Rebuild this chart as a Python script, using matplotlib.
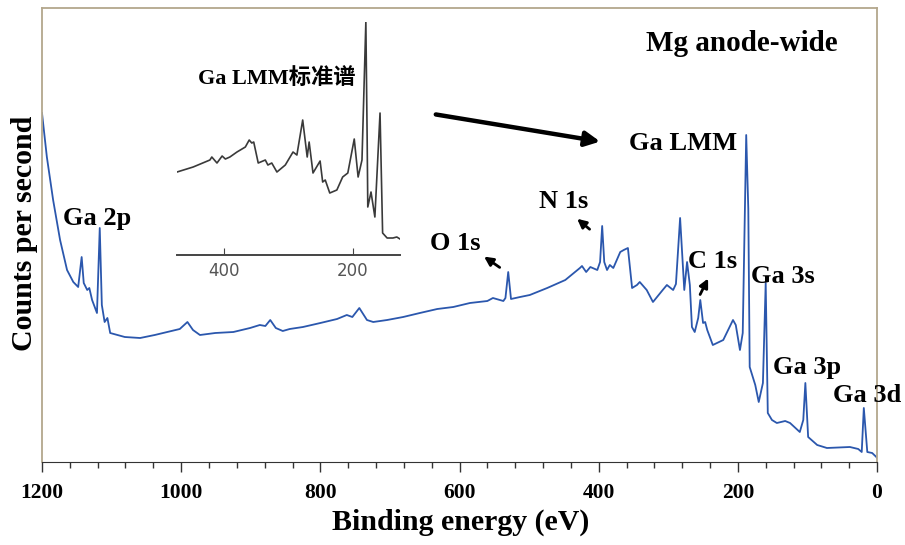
import matplotlib.pyplot as plt
from matplotlib.ticker import MultipleLocator

# Survey spectrum (binding energy in eV, intensity in arbitrary units)
energy = [1200, 1193, 1184, 1174, 1164, 1155, 1148, 1143, 1140, 1135, 1132, 1128,
          1121, 1117, 1114, 1110, 1106, 1102, 1081, 1059, 1038, 1020, 1002, 991,
          983, 973, 951, 925, 901, 887, 879, 872, 864, 854, 844, 825, 800, 776,
          762, 754, 744, 733, 724, 704, 681, 657, 632, 609, 585, 560, 552, 537,
          534, 530, 526, 513, 499, 474, 448, 427, 424, 418, 412, 402, 398, 395,
          392, 388, 384, 379, 369, 364, 358, 352, 345, 341, 331, 322, 308, 302,
          293, 289, 283, 277, 273, 269, 266, 262, 257, 254, 250, 247, 244, 236,
          221, 207, 203, 197, 193, 188, 185, 183, 175, 170, 164, 160, 157, 151,
          144, 132, 125, 111, 106, 103, 99, 86, 72, 39, 27, 22, 19, 14, 7, 1, 0]
counts = [349, 305, 262, 222, 192, 180, 175, 205, 179, 172, 174, 162,
          149, 234, 157, 140, 144, 129, 125, 124, 127, 130, 133, 140,
          132, 127, 129, 130, 134, 137, 136, 142, 134, 131, 133, 135, 139, 143,
          147, 145, 154, 142, 140, 142, 145, 149, 153, 155, 159, 161, 164, 161,
          164, 190, 163, 165, 167, 174, 182, 194, 196, 190, 195, 192, 200, 236,
          200, 192, 197, 194, 210, 212, 214, 174, 177, 180, 172, 160, 172, 177,
          172, 178, 244, 172, 200, 177, 135, 130, 144, 162, 139, 140, 132, 117,
          122, 142, 137, 112, 129, 327, 253, 95, 77, 60, 79, 179, 49, 42,
          39, 41, 39, 30, 42, 79, 25, 17, 14, 15, 13, 10, 54, 10, 9, 5, 4]

# Ga LMM reference spectrum (inset)
std_energy = [473, 448, 422, 419, 411, 403, 398, 391, 380, 367, 361, 357, 354,
              347, 336, 332, 326, 318, 305, 293, 287, 278, 271, 268, 262, 251,
              247, 243, 236, 225, 216, 208, 198, 192, 186, 180, 178, 177, 172,
              166, 158, 154, 147, 138, 132, 127]
std_counts = [83, 88, 95, 98, 92, 99, 96, 98, 103, 108, 115, 112, 113,
              92, 95, 90, 92, 83, 90, 103, 100, 135, 98, 113, 82, 94,
              73, 75, 62, 65, 78, 82, 116, 78, 95, 233, 118, 48, 63,
              38, 142, 22, 17, 17, 18, 16]

# peak labels: (text, energy, intensity)
peak_labels = [("Ga 2p", 1121, 244), ("O 1s", 606, 219), ("N 1s", 450, 261),
               ("C 1s", 236, 201), ("Ga LMM", 279, 319), ("Ga 3s", 135, 186),
               ("Ga 3p", 101, 94), ("Ga 3d", 14, 66)]

serif = "Liberation Serif"
frame = "#b3a78c"

fig = plt.figure(figsize=(9.05, 5.45), dpi=100)
ax = fig.add_axes([0.0464, 0.1523, 0.9227, 0.833])
ax.plot(energy, counts, color="#2b57ad", lw=1.3)
ax.set_xlim(1200, 0)
ax.set_ylim(0, 454)
ax.set_yticks([])

ax.xaxis.set_major_locator(MultipleLocator(200))
ax.xaxis.set_minor_locator(MultipleLocator(40))
ax.tick_params(axis="x", which="major", direction="out", length=7, width=1,
               color="#333", pad=8, labelsize=15.5)
ax.tick_params(axis="x", which="minor", direction="out", length=4, width=1,
               color="#333")
for lab in ax.get_xticklabels():
    lab.set_fontfamily(serif)
    lab.set_fontweight("bold")

for side in ["left", "top", "right"]:
    ax.spines[side].set_color(frame)
    ax.spines[side].set_linewidth(1.3)
ax.spines["bottom"].set_color("#333")

for txt, x, y in peak_labels:
    ax.text(x, y, txt, ha="center", va="center", fontsize=19,
            fontfamily=serif, fontweight="bold", clip_on=False)

ax.text(195, 419, "Mg anode-wide", ha="center", va="center", fontsize=21,
        fontfamily=serif, fontweight="bold")

# small arrows pointing at peaks
small = dict(arrowstyle="-|>", lw=2, color="black", mutation_scale=13)
ax.annotate("", xy=(568, 207), xytext=(539, 193), arrowprops=small)
ax.annotate("", xy=(434, 245), xytext=(410, 231), arrowprops=small)
ax.annotate("", xy=(241, 186), xytext=(256, 165), arrowprops=small)

# big arrow from inset to Ga LMM
ax.annotate("", xy=(394, 320), xytext=(638, 348),
            arrowprops=dict(arrowstyle="-|>", lw=3.2, color="black",
                            mutation_scale=22))

fig.text(25 / 905, 1 - 233 / 545, "Counts per second", rotation=90,
         ha="center", va="center", fontsize=21.5, fontfamily=serif,
         fontweight="bold")
fig.text(461 / 905, 1 - 522 / 545, "Binding energy (eV)", ha="center",
         va="center", fontsize=21.5, fontfamily=serif, fontweight="bold")

# inset: standard Ga LMM spectrum
axin = fig.add_axes([0.1956, 0.5321, 0.2464, 0.4275])
axin.patch.set_alpha(0)
axin.plot(std_energy, std_counts, color="#3a3a3a", lw=1.2)
axin.set_xlim(473, 127)
axin.set_ylim(0, 233)
axin.set_yticks([])
axin.set_xticks([400, 200])
axin.tick_params(axis="x", direction="in", length=5, color="#444", pad=5,
                 labelsize=12, labelcolor="#555")
for side in ["left", "top", "right"]:
    axin.spines[side].set_visible(False)
axin.spines["bottom"].set_color("#444")
axin.spines["bottom"].set_linewidth(1.4)
axin.text(319, 177, "Ga LMM标准谱", ha="center", va="center", fontsize=16,
          family=[serif, "Noto Sans CJK SC"], fontweight="bold")

fig.savefig("out.png", dpi=100)
